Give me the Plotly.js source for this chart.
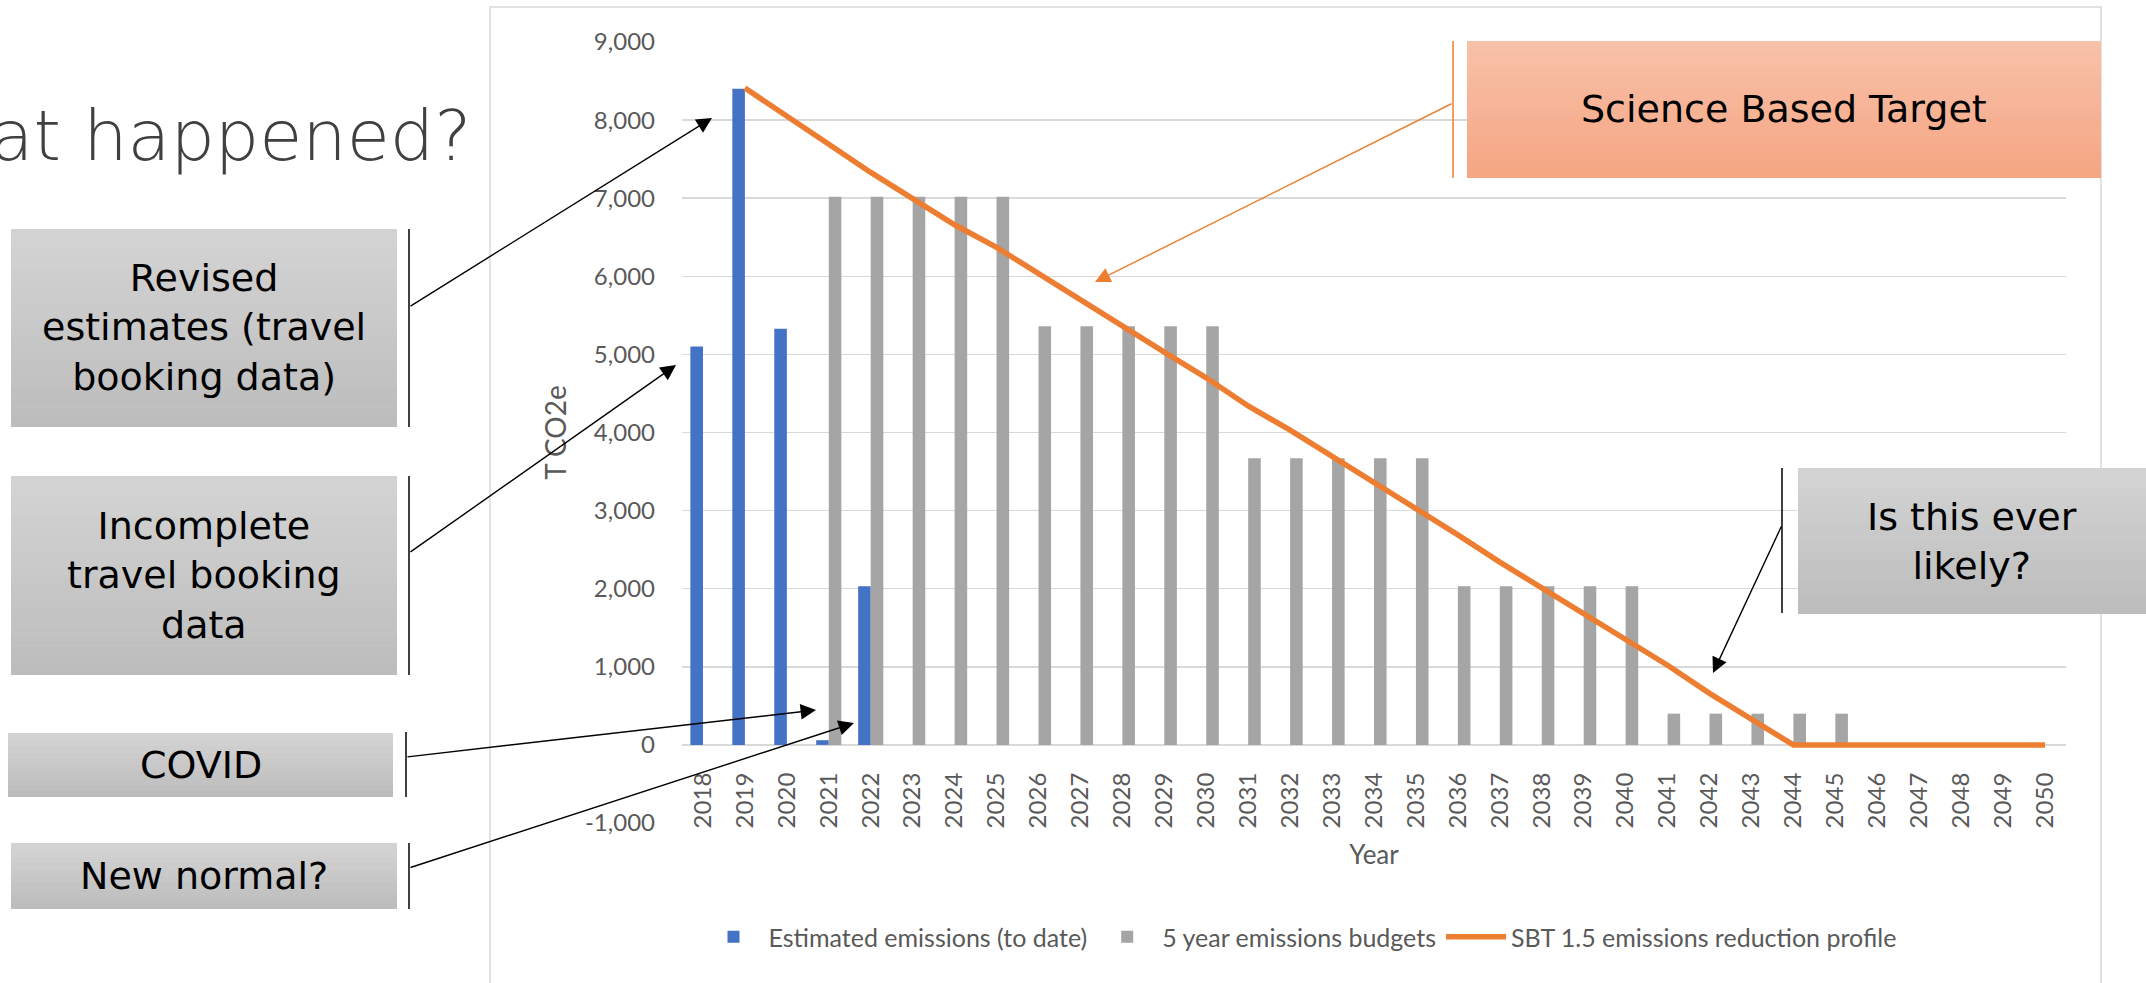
<!DOCTYPE html>
<html><head><meta charset="utf-8">
<script src="https://cdn.plot.ly/plotly-3.0.1.min.js"></script>
<style>html,body{margin:0;padding:0;background:#fff;overflow:hidden}</style>
</head><body><div id="chart" style="width:2146px;height:983px"></div>
<script>
// ---- data ----
const years = ['2018','2019','2020','2021','2022','2023','2024','2025','2026','2027','2028','2029','2030',
  '2031','2032','2033','2034','2035','2036','2037','2038','2039','2040','2041','2042','2043','2044',
  '2045','2046','2047','2048','2049','2050'];
const estimatedEmissions = [5100, 8400, 5330, 60, 2030, null, null, null, null, null, null, null, null,
  null, null, null, null, null, null, null, null, null, null, null, null, null, null,
  null, null, null, null, null, null];
const fiveYearBudgets = [null, null, null, 7020, 7020, 7020, 7020, 7020, 5360, 5360, 5360, 5360, 5360,
  3670, 3670, 3670, 3670, 3670, 2030, 2030, 2030, 2030, 2030, 400, 400, 400, 400,
  400, null, null, null, null, null];
const sbtProfile = [null, 8410, 8060, 7690, 7330, 6990, 6660, 6370, 6030, 5700, 5360, 5030, 4700,
  4340, 4030, 3700, 3370, 3030, 2690, 2340, 2010, 1680, 1350, 1020, 660, 320, 0,
  0, 0, 0, 0, 0, 0];
const seriesNames = ['Estimated emissions (to date)', '5 year emissions budgets', 'SBT 1.5 emissions reduction profile'];
const yRange = [-1000, 9000];
const yTickVals = [-1000, 0, 1000, 2000, 3000, 4000, 5000, 6000, 7000, 8000, 9000];
const yTickText = ['-1,000', '0', '1,000', '2,000', '3,000', '4,000', '5,000', '6,000', '7,000', '8,000', '9,000'];
const yTitle = 'T CO2e';
const xTitle = 'Year';
const titleText = 'What happened?';
const boxTexts = {
  revised: 'Revised<br>estimates (travel<br>booking data)',
  incomplete: 'Incomplete<br>travel booking<br>data',
  covid: 'COVID',
  newNormal: 'New normal?',
  sbt: 'Science Based Target',
  likely: 'Is this ever<br>likely?'
};

// ---- geometry helpers (page pixels -> paper) ----
const W = 2146, H = 983, L = 682, R = 80, T = 42, B = 160;
const PW = W - L - R, PH = H - T - B;
const px = v => (v - L) / PW;
const py = v => 1 - (v - T) / PH;
const FONT = 'Lato, "Open Sans", sans-serif';
const GFONT = '"DejaVu Sans", "Noto Sans", sans-serif';
const GREY_TXT = '#595959';

const shapes = [];
const annotations = [];

// chart frame
shapes.push({type:'rect', xref:'paper', yref:'paper', x0:px(490), x1:px(2101), y0:py(7), y1:py(1010),
  line:{color:'#d9d9d9', width:1.5}, fillcolor:'rgba(0,0,0,0)', layer:'below'});

function hex(c){return [parseInt(c.slice(1,3),16),parseInt(c.slice(3,5),16),parseInt(c.slice(5,7),16)];}
function gradBox(x0, y0, x1, y1, c0, c1, n){
  const a = hex(c0), b = hex(c1);
  for(let i=0;i<n;i++){
    const t = i/(n-1);
    const col = 'rgb(' + a.map((v,k)=>Math.round(v+(b[k]-v)*t)).join(',') + ')';
    const ya = y0 + (y1-y0)*i/n, yb = Math.min(y1, y0 + (y1-y0)*(i+1)/n + 0.6);
    shapes.push({type:'rect', xref:'paper', yref:'paper', x0:px(x0), x1:px(x1), y0:py(ya), y1:py(yb),
      fillcolor:col, line:{width:0}, layer:'above'});
  }
}
function vline(x, y0, y1, color){
  shapes.push({type:'line', xref:'paper', yref:'paper', x0:px(x), x1:px(x), y0:py(y0), y1:py(y1),
    line:{color:color, width:1.5}, layer:'above'});
}
function boxText(text, x0, y0, x1, y1, size){
  annotations.push({xref:'paper', yref:'paper', x:px((x0+x1)/2), y:py((y0+y1)/2), xanchor:'center', yanchor:'middle',
    text:text, showarrow:false, font:{family:GFONT, size:size, color:'#000'}, align:'center'});
}
function arrow(tx, ty, fx, fy, color, head){
  annotations.push({xref:'paper', yref:'paper', x:px(tx), y:py(ty), axref:'pixel', ayref:'pixel',
    ax:fx-tx, ay:fy-ty, text:'', showarrow:true, arrowhead:2, arrowsize:head, arrowwidth:1.4,
    arrowcolor:color, standoff:0, startstandoff:0});
}

const GT = '#d3d3d3', GB = '#bdbdbd';
// left boxes
gradBox(11, 229, 397, 427, GT, GB, 20); vline(409, 229, 427, '#000');
boxText(boxTexts.revised, 11, 229, 397, 427, 38);
gradBox(11, 476, 397, 675, GT, GB, 20); vline(409, 476, 675, '#000');
boxText(boxTexts.incomplete, 11, 476, 397, 675, 38);
gradBox(8, 733, 393, 797, GT, GB, 10); vline(406, 732, 797, '#000');
boxText(boxTexts.covid, 8, 733, 393, 797, 38);
gradBox(11, 843, 397, 909, GT, GB, 10); vline(409, 843, 909, '#000');
boxText(boxTexts.newNormal, 11, 843, 397, 909, 38);
// SBT box
gradBox(1467, 41, 2101, 178, '#f8c0a8', '#f5a682', 16); vline(1453, 41, 178, '#ED7D31');
boxText(boxTexts.sbt, 1467, 41, 2101, 178, 38);
// likely box
gradBox(1798, 468, 2146, 614, GT, GB, 16); vline(1782, 468, 613, '#000');
boxText(boxTexts.likely, 1798, 468, 2146, 614, 38);

// arrows
arrow(712, 118, 409, 307, '#000', 2.2);
arrow(676, 365, 409, 553, '#000', 2.2);
arrow(816, 710, 406, 757, '#000', 2.2);
arrow(854, 723, 409, 868, '#000', 2.2);
arrow(1095, 282, 1453, 103, '#ED7D31', 2.2);
arrow(1713, 673, 1782, 525, '#000', 2.2);

// slide title (cut off on the left, as in the slide)
annotations.push({xref:'paper', yref:'paper', x:px(473), y:py(136), xanchor:'right', yanchor:'middle',
  text:titleText, showarrow:false, font:{family:GFONT, size:70, color:'#404040', weight:200}});

const traces = [
  {type:'bar', name:seriesNames[0], x:years, y:estimatedEmissions, marker:{color:'#4472C4'}, hoverinfo:'skip'},
  {type:'bar', name:seriesNames[1], x:years, y:fiveYearBudgets, marker:{color:'#A5A5A5'}, hoverinfo:'skip'},
  {type:'scatter', mode:'lines', name:seriesNames[2], x:years, y:sbtProfile,
    line:{color:'#ED7D31', width:5.5}, connectgaps:false, hoverinfo:'skip'}
];

const zeroPos = (0 - yRange[0]) / (yRange[1] - yRange[0]);
const layout = {
  width: W, height: H,
  margin: {l:L, r:R, t:T, b:B, pad:0},
  paper_bgcolor:'#ffffff', plot_bgcolor:'rgba(0,0,0,0)',
  barmode:'group', bargap:0.4, bargroupgap:0,
  font:{family:FONT, color:GREY_TXT},
  showlegend:true,
  legend:{orientation:'h', x:px(1300), xanchor:'center', y:py(937), yanchor:'middle',
    font:{family:FONT, size:25, color:GREY_TXT}, itemwidth:60, bgcolor:'rgba(0,0,0,0)', traceorder:'normal'},
  xaxis:{type:'category', anchor:'free', position:zeroPos, tickangle:-90, ticks:'', showgrid:false,
    showline:false, zeroline:false, automargin:false, ticklabelstandoff:22,
    tickfont:{family:FONT, size:24, color:GREY_TXT},
    title:{text:xTitle, font:{family:FONT, size:26, color:GREY_TXT}, standoff:18}},
  yaxis:{range:yRange, tickvals:yTickVals, ticktext:yTickText, showgrid:true, gridcolor:'#d9d9d9', gridwidth:1.5,
    zeroline:false, showline:false, ticks:'', automargin:false, ticklabelstandoff:26,
    tickfont:{family:FONT, size:24, color:GREY_TXT},
    title:{text:yTitle, font:{family:FONT, size:28, color:GREY_TXT}, standoff:10}},
  shapes: shapes,
  annotations: annotations
};

Plotly.newPlot('chart', traces, layout, {displayModeBar:false, staticPlot:true});
</script>
</body></html>
